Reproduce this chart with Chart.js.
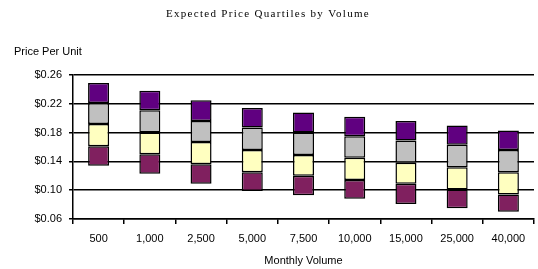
<!DOCTYPE html>
<html>
<head>
<meta charset="utf-8">
<script src="https://cdn.jsdelivr.net/npm/chart.js@4/dist/chart.umd.min.js"></script>
<style>
  html, body { margin: 0; padding: 0; background: #fff; }
  #wrap { width: 538px; height: 269px; }
</style>
</head>
<body>
<div id="wrap"><canvas id="grafico"></canvas></div>
<script>
// === DADOS ===
const volumes = ["500", "1,000", "2,500", "5,000", "7,500", "10,000", "15,000", "25,000", "40,000"];
// limites dos quartis (mínimo, Q1, mediana, Q3, máximo)
const minimo  = [0.134, 0.123, 0.109, 0.099, 0.093, 0.088, 0.081, 0.075, 0.070];
const q1      = [0.161, 0.150, 0.136, 0.125, 0.120, 0.114, 0.109, 0.101, 0.094];
const mediana = [0.192, 0.180, 0.167, 0.156, 0.149, 0.145, 0.138, 0.132, 0.125];
const q3      = [0.221, 0.211, 0.196, 0.187, 0.180, 0.175, 0.169, 0.163, 0.156];
const maximo  = [0.249, 0.238, 0.225, 0.214, 0.208, 0.202, 0.196, 0.190, 0.183];
const ticksY  = [0.06, 0.10, 0.14, 0.18, 0.22, 0.26];

const titulo = "Expected Price Quartiles by Volume";
const tituloY = "Price Per Unit";
const tituloX = "Monthly Volume";

// === CORES ===
const cores = ["#80205f", "#ffffc0", "#c0c0c0", "#600080"];

const faixa = (a, b) => a.map((v, i) => [v, b[i]]);
const segmentos = [
  faixa(minimo, q1),
  faixa(q1, mediana),
  faixa(mediana, q3),
  faixa(q3, maximo),
];

// textos fora do gráfico (título com espaçamento entre letras)
const textos = {
  id: "textos",
  afterDraw(chart) {
    const ctx = chart.ctx;
    ctx.save();
    ctx.fillStyle = "#000";
    ctx.textBaseline = "middle";
    ctx.textAlign = "center";
    ctx.font = "11px 'Liberation Serif', 'Times New Roman', serif";
    ctx.letterSpacing = "1.3px";
    ctx.fillText(titulo, 268, 14);
    ctx.letterSpacing = "0px";
    ctx.textAlign = "left";
    ctx.font = "11px 'Liberation Sans', Arial, sans-serif";
    ctx.fillText(tituloY, 14, 52);
    ctx.restore();
  }
};

const fonte = { family: "'Liberation Sans', Arial, sans-serif", size: 11 };

new Chart(document.getElementById("grafico").getContext("2d"), {
  type: "bar",
  data: {
    labels: volumes,
    datasets: segmentos.map((d, i) => ({
      data: d,
      backgroundColor: cores[i],
      borderColor: "#000",
      borderWidth: 1.5,
      borderSkipped: false,
      barPercentage: 0.41,
      categoryPercentage: 1,
    }))
  },
  options: {
    responsive: true,
    maintainAspectRatio: false,
    animation: false,
    layout: { padding: { top: 75, right: 4, left: 0, bottom: 0 } },
    plugins: {
      legend: { display: false },
      tooltip: { enabled: false },
      title: { display: false },
    },
    scales: {
      x: {
        stacked: true,
        offset: true,
        border: { color: "#000", width: 1.5 },
        grid: { display: true, offset: true, drawOnChartArea: false, drawTicks: true, tickLength: 5, color: "#000", lineWidth: 1.5 },
        ticks: { color: "#000", font: fonte, padding: 8, maxRotation: 0, autoSkip: false },
        title: { display: true, text: tituloX, color: "#000", font: fonte, padding: { top: 0, bottom: 1 } },
        afterFit: (s) => { s.height = 50; },
      },
      y: {
        min: 0.06,
        max: 0.26,
        afterBuildTicks: (s) => { s.ticks = ticksY.map((v) => ({ value: v })); },
        border: { color: "#000", width: 1.5 },
        grid: { color: "#000", lineWidth: 1.5, tickLength: 4 },
        ticks: { color: "#000", font: fonte, padding: 7, callback: (v) => "$" + Number(v).toFixed(2) },
        afterFit: (s) => { s.width = 73; },
      }
    }
  },
  plugins: [textos],
});
</script>
</body>
</html>
